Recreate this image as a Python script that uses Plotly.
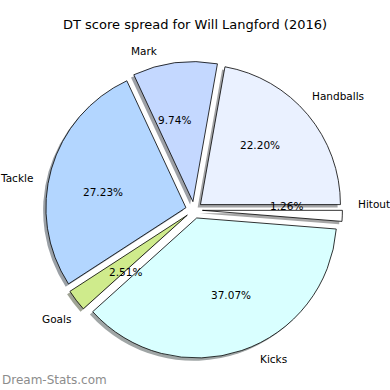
import math
import plotly.graph_objects as go

# ---- data ----
labels = ["Hitout", "Handballs", "Mark", "Tackle", "Goals", "Kicks"]
values = [1.26, 22.20, 9.74, 27.23, 2.51, 37.07]
colors = ["#ffffff", "#eaf1ff", "#c4d8ff", "#b3d6ff", "#cfeb8c", "#d9ffff"]
title_text = "DT score spread for Will Langford (2016)"
watermark = "Dream-Stats.com"

# ---- layout constants (pixels) ----
W = H = 390
CX, CY, R = 194.0, 210.0, 140.0
PULL = 0.06
SHADOW = 2.8


def shadow_color(hexc):
    h = hexc.lstrip("#")
    rgb = [int(h[i:i + 2], 16) for i in (0, 2, 4)]
    out = [round(0.5 * 255 + 0.5 * 0.3 * c) for c in rgb]
    return "rgb(%d,%d,%d)" % tuple(out)


half = R * (1 + PULL)  # plotly: r = half_box / (1 + max pull)


def domain(dx=0.0, dy=0.0):
    return dict(
        x=[(CX + dx - half) / W, (CX + dx + half) / W],
        y=[1 - (CY + dy + half) / H, 1 - (CY + dy - half) / H],
    )


common = dict(
    labels=labels,
    values=values,
    sort=False,
    direction="counterclockwise",
    rotation=90,
    pull=[PULL] * len(values),
    textinfo="none",
    hoverinfo="label+percent",
    showlegend=False,
)

fig = go.Figure()
fig.add_trace(go.Pie(
    **common,
    domain=domain(-SHADOW, SHADOW),
    marker=dict(colors=[shadow_color(c) for c in colors],
                line=dict(color="rgba(0,0,0,0)", width=0)),
))
fig.add_trace(go.Pie(
    **common,
    domain=domain(),
    marker=dict(colors=colors, line=dict(color="#000000", width=0.8)),
))

# labels and percentages placed like matplotlib's pie text
annotations = []
total = sum(values)
start = 0.0
P = PULL * R
for lab, v in zip(labels, values):
    span = 360.0 * v / total
    mid = math.radians(start + span / 2)
    start += span
    c, s = math.cos(mid), math.sin(mid)
    ld = 1.1 * R + P
    lx = CX + ld * c
    ly = CY - ld * s
    annotations.append(dict(
        x=lx / W, y=1 - ly / H, xref="paper", yref="paper",
        text=lab, showarrow=False,
        xanchor="left" if c > 0 else "right", yanchor="middle",
        font=dict(size=10.5, color="#000000"),
    ))
    pd_ = 0.6 * R + P
    px = CX + pd_ * c
    py = CY - pd_ * s
    annotations.append(dict(
        x=px / W, y=1 - py / H, xref="paper", yref="paper",
        text="%.2f%%" % (100.0 * v / total), showarrow=False,
        xanchor="center", yanchor="middle",
        font=dict(size=10.5, color="#000000"),
    ))

annotations.append(dict(
    x=195 / W, y=1 - 25 / H, xref="paper", yref="paper",
    text=title_text, showarrow=False, xanchor="center", yanchor="middle",
    font=dict(size=13, color="#000000"),
))
annotations.append(dict(
    x=0, y=1 - 380 / H, xref="paper", yref="paper",
    text=watermark, showarrow=False,
    xanchor="left", yanchor="middle",
    font=dict(size=12, color="#8c8c8c"),
))

fig.update_layout(
    width=W, height=H,
    margin=dict(l=0, r=0, t=0, b=0),
    paper_bgcolor="#ffffff",
    plot_bgcolor="#ffffff",
    font=dict(family="DejaVu Sans, sans-serif"),
    annotations=annotations,
)

fig.write_html(
    "out.html",
    config={"displayModeBar": False},
    post_script="document.body.style.margin='0';document.body.style.overflow='hidden';",
)
